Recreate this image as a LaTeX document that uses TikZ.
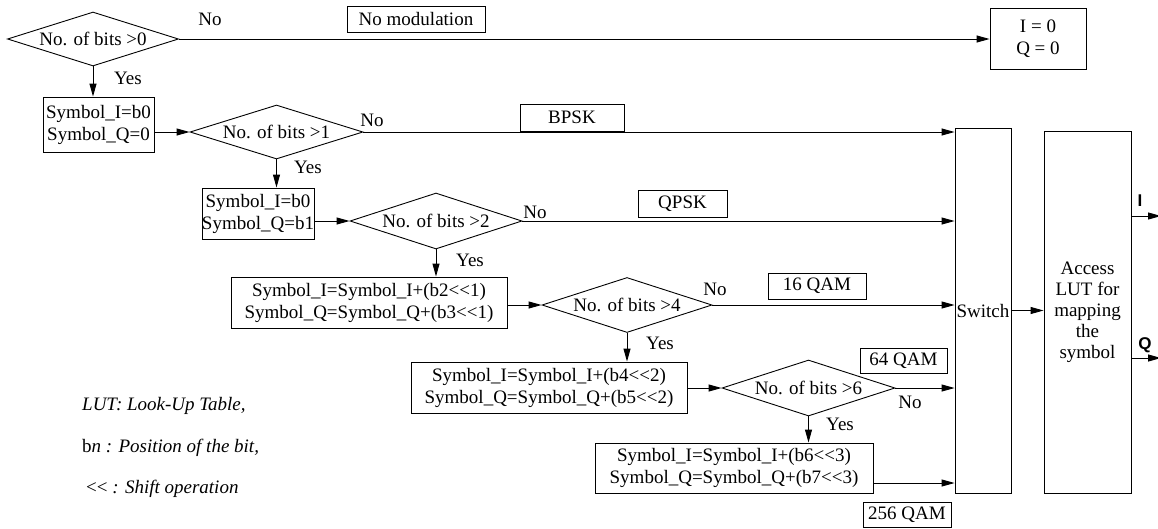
\documentclass[tikz,border=0pt]{standalone}
\usepackage{fontspec}
\setmainfont[Ligatures=TeXOff]{Liberation Serif}
\newfontfamily\labsans{Liberation Sans}
\usetikzlibrary{shapes.geometric,arrows.meta}
\newcommand\shiftop{<\kern0pt<}
\begin{document}
\begin{tikzpicture}[x=1pt,y=-1pt,
  every node/.style={font=\fontsize{19}{22}\selectfont},
  box/.style={draw, rectangle, inner sep=0pt, align=center, line width=0.9pt},
  dec/.style={draw, diamond, shape aspect=3.2, inner sep=0pt, line width=0.9pt},
  arr/.style={-{Triangle[length=13pt,width=7pt]}, line width=0.9pt},
  lab/.style={inner sep=0pt},
  leg/.style={inner sep=0pt, anchor=west},
  io/.style={inner sep=0pt, font=\labsans\bfseries\fontsize{17}{20}\selectfont}]
\useasboundingbox (0,0) rectangle (1158,528);

% decisions
\node[dec, minimum width=171pt, minimum height=54pt] (d0) at (93,39) {No. of bits >0};
\node[dec, minimum width=173pt, minimum height=54pt] (d1) at (276.5,132) {No. of bits >1};
\node[dec, minimum width=172pt, minimum height=56pt] (d2) at (436,221) {No. of bits >2};
\node[dec, minimum width=170pt, minimum height=55pt] (d3) at (627,305) {No. of bits >4};
\node[dec, minimum width=173pt, minimum height=56pt] (d4) at (808.5,388) {No. of bits >6};

% process boxes
\node[box, minimum width=111pt, minimum height=55pt] (b1) at (98.5,124.5) {Symbol\_I=b0\\Symbol\_Q=0};
\node[box, minimum width=112pt, minimum height=51pt] (b2) at (258,213.5) {Symbol\_I=b0\\Symbol\_Q=b1};
\node[box, minimum width=276pt, minimum height=51pt] (b3) at (369,302.5) {Symbol\_I=Symbol\_I+(b2\shiftop1)\\Symbol\_Q=Symbol\_Q+(b3\shiftop1)};
\node[box, minimum width=276pt, minimum height=51pt] (b4) at (549,387.5) {Symbol\_I=Symbol\_I+(b4\shiftop2)\\Symbol\_Q=Symbol\_Q+(b5\shiftop2)};
\node[box, minimum width=278pt, minimum height=50pt] (b5) at (734,468) {Symbol\_I=Symbol\_I+(b6\shiftop3)\\Symbol\_Q=Symbol\_Q+(b7\shiftop3)};

\node[box, minimum width=96pt, minimum height=61pt] (iq0) at (1038,38.5) {I = 0\\Q = 0};
\node[box, minimum width=56pt, minimum height=365pt] (sw) at (983,310.5) {Switch};
\node[box, minimum width=87pt, minimum height=362pt, font=\fontsize{19}{21}\selectfont] (lut) at (1087.5,312) {Access\\LUT for\\mapping\\the\\symbol};

% modulation tags
\node[box, minimum width=138pt, minimum height=26pt] (tnm) at (416,19) {No modulation};
\node[box, minimum width=104pt, minimum height=27pt] (tbp) at (572,117.5) {BPSK};
\node[box, minimum width=89pt, minimum height=27pt] (tqp) at (682.5,203.5) {QPSK};
\node[box, minimum width=98pt, minimum height=26pt] (t16) at (817,286) {16 QAM};
\node[box, minimum width=87pt, minimum height=25pt] (t64) at (903.5,360.5) {64 QAM};
\node[box, minimum width=88pt, minimum height=25pt] (t256) at (907,514.5) {256 QAM};

% connectors: No branches
\draw[arr] (d0.east) -- (d0.east -| iq0.west);
\draw[arr] (d1.east) -- (d1.east -| sw.west);
\draw[arr] (d2.east) -- (d2.east -| sw.west);
\draw[arr] (d3.east) -- (d3.east -| sw.west);
\draw[arr] (d4.east) -- (d4.east -| sw.west);
\coordinate (b5o) at ([yshift=-15pt]b5.east);
\draw[arr] (b5o) -- (b5o -| sw.west);

% Yes branches
\draw[arr] (d0.south) -- (d0.south |- b1.north);
\draw[arr] (d1.south) -- (d1.south |- b2.north);
\draw[arr] (d2.south) -- (d2.south |- b3.north);
\draw[arr] (d3.south) -- (d3.south |- b4.north);
\draw[arr] (d4.south) -- (d4.south |- b5.north);

% box to next decision
\draw[arr] (d1.west -| b1.east) -- (d1.west);
\draw[arr] (d2.west -| b2.east) -- (d2.west);
\draw[arr] (d3.west -| b3.east) -- (d3.west);
\draw[arr] (d4.west -| b4.east) -- (d4.west);

% switch to LUT and outputs
\draw[arr] (sw.east) -- (sw.east -| lut.west);
\coordinate (Iend) at (1161,216);
\coordinate (Qend) at (1161,358);
\draw[arr] (lut.east |- Iend) -- (Iend);
\draw[arr] (lut.east |- Qend) -- (Qend);
\node[io] (Ilab) at (1140,201) {I};
\node[io] (Qlab) at (1145,345) {Q};

% Yes / No labels
\node[lab] (n0) at (210,19) {No};
\node[lab] (y0) at (128,78) {Yes};
\node[lab] (n1) at (372,120) {No};
\node[lab] (y1) at (308,167) {Yes};
\node[lab] (n2) at (535,212) {No};
\node[lab] (y2) at (470,260) {Yes};
\node[lab] (n3) at (715,289) {No};
\node[lab] (y3) at (660,343) {Yes};
\node[lab] (n4) at (910,402) {No};
\node[lab] (y4) at (840,424) {Yes};

% legend
\node[leg] (l1) at (82,406) {\itshape LUT: Look-Up Table,};
\node[leg] (l2) at (82,448) {b\textit{n : Position of the bit,}};
\node[leg] (l3) at (86,489) {\shiftop{} \textit{: Shift operation}};
\end{tikzpicture}
\end{document}
